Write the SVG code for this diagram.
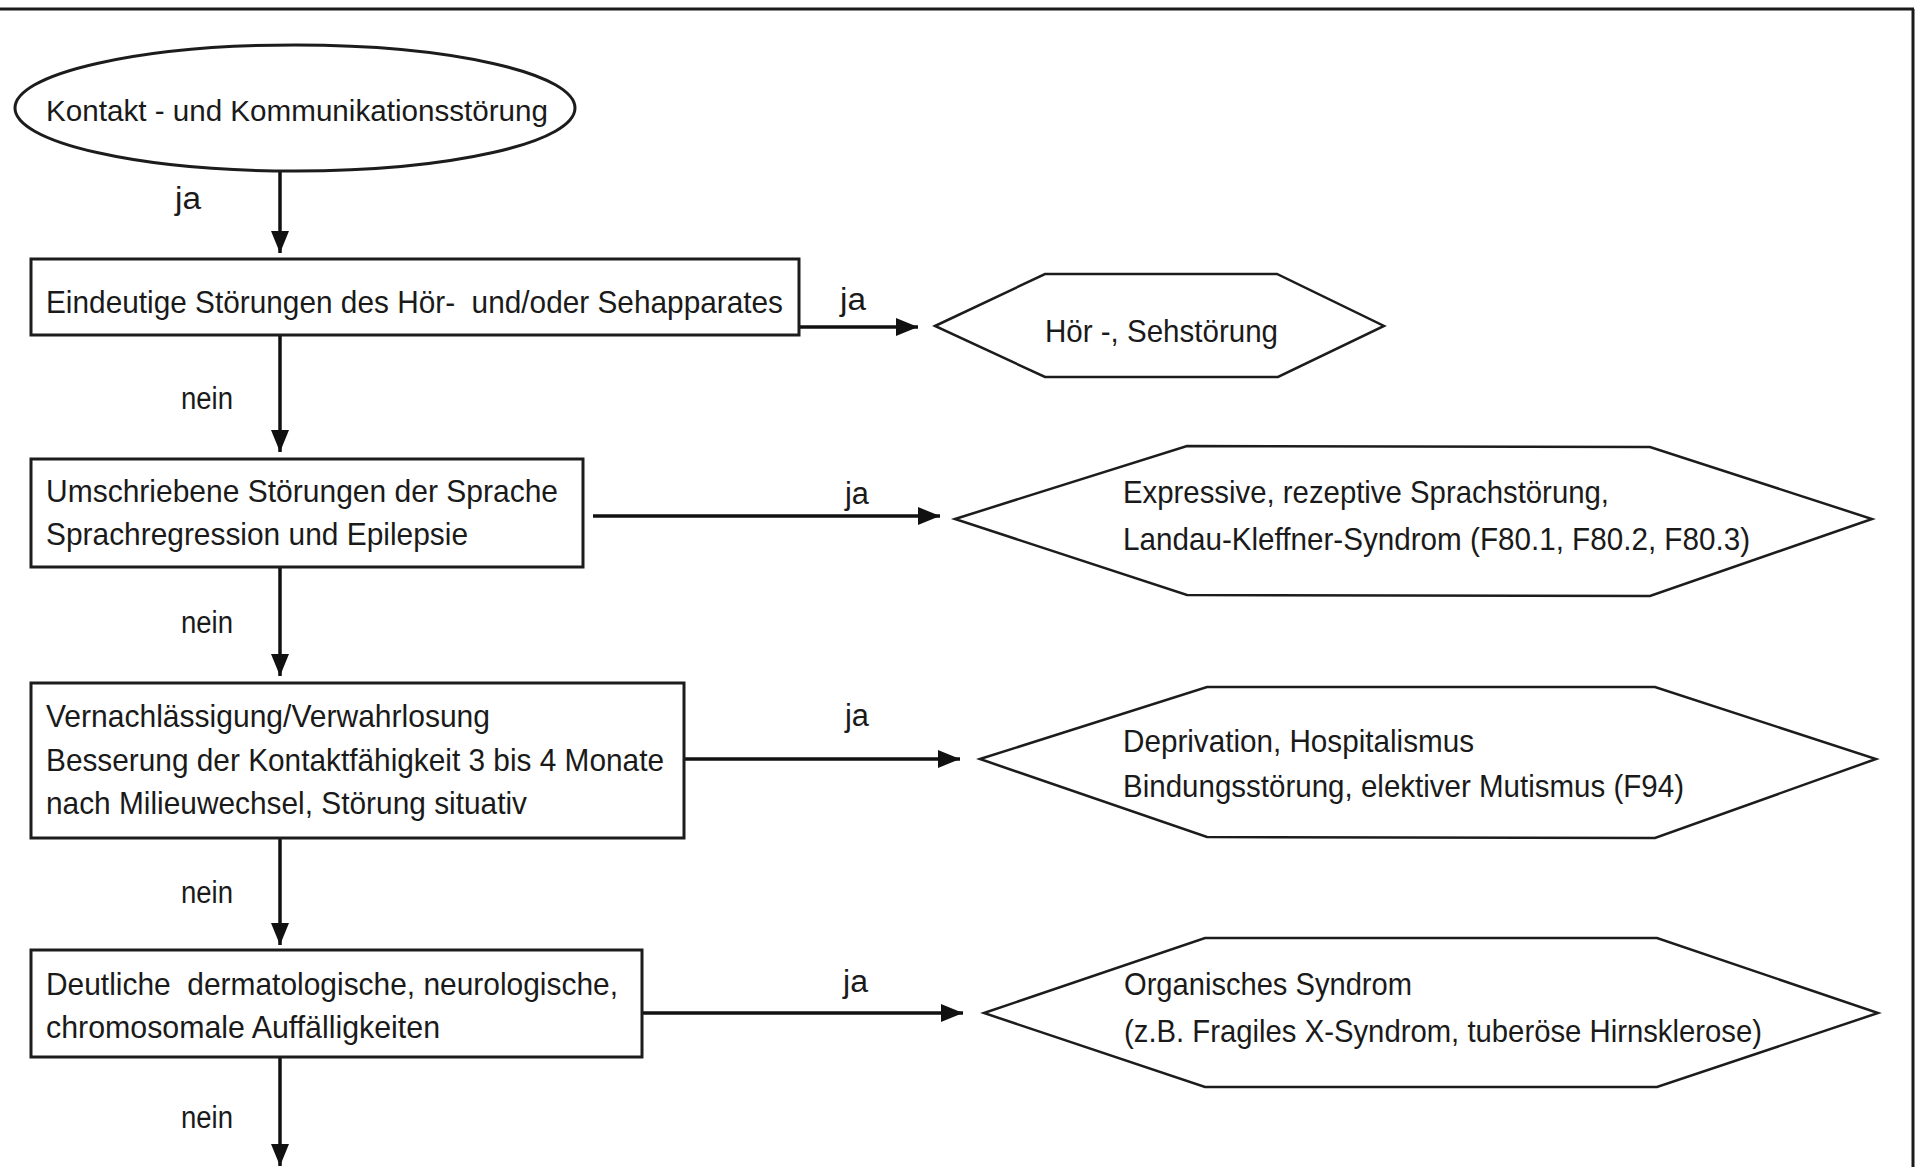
<svg xmlns="http://www.w3.org/2000/svg" width="1916" height="1167" viewBox="0 0 1916 1167">
<style>
  .bg { fill: #ffffff; }
  .frame { stroke: #1a1a1a; stroke-width: 3; fill: none; }
  .shape { fill: #ffffff; stroke: #1c1c1c; stroke-width: 3; }
  .hex { fill: #ffffff; stroke: #1c1c1c; stroke-width: 2.5; stroke-linejoin: miter; }
  .conn { stroke: #111111; stroke-width: 3.5; fill: none; }
  text { font-family: "Liberation Sans", Arial, Helvetica, sans-serif; fill: #1a1a1a; }
  .t { font-size: 32px; }
  .te { font-size: 29px; }
  .lbl { font-size: 31px; }
</style>
<defs>
  <marker id="arrow" viewBox="0 0 22 18" refX="22" refY="9" markerWidth="22" markerHeight="18" markerUnits="userSpaceOnUse" orient="auto">
    <path d="M0,0 L22,9 L0,18 Z" fill="#111111"/>
  </marker>
</defs>
<rect class="bg" x="0" y="0" width="1916" height="1167"/>
<g id="frame">
  <line class="frame" x1="0" y1="9" x2="1914" y2="9"/>
  <line class="frame" x1="1913" y1="9" x2="1913" y2="1167"/>
</g>
<g id="connectors">
  <line class="conn" x1="280" y1="171" x2="280" y2="253" marker-end="url(#arrow)"/>
  <line class="conn" x1="280" y1="336" x2="280" y2="452" marker-end="url(#arrow)"/>
  <line class="conn" x1="280" y1="567" x2="280" y2="676" marker-end="url(#arrow)"/>
  <line class="conn" x1="280" y1="838" x2="280" y2="945" marker-end="url(#arrow)"/>
  <line class="conn" x1="280" y1="1057" x2="280" y2="1166" marker-end="url(#arrow)"/>
  <line class="conn" x1="800" y1="327" x2="918" y2="327" marker-end="url(#arrow)"/>
  <line class="conn" x1="593" y1="516" x2="940" y2="516" marker-end="url(#arrow)"/>
  <line class="conn" x1="684" y1="759" x2="960" y2="759" marker-end="url(#arrow)"/>
  <line class="conn" x1="642" y1="1013" x2="963" y2="1013" marker-end="url(#arrow)"/>
  <text class="lbl" x="175" y="209" textLength="26" lengthAdjust="spacingAndGlyphs">ja</text>
  <text class="lbl" x="840" y="310" textLength="26" lengthAdjust="spacingAndGlyphs">ja</text>
  <text class="lbl" x="181" y="409" textLength="52" lengthAdjust="spacingAndGlyphs">nein</text>
  <text class="lbl" x="845" y="504" textLength="24" lengthAdjust="spacingAndGlyphs">ja</text>
  <text class="lbl" x="181" y="633" textLength="52" lengthAdjust="spacingAndGlyphs">nein</text>
  <text class="lbl" x="845" y="726" textLength="24" lengthAdjust="spacingAndGlyphs">ja</text>
  <text class="lbl" x="181" y="903" textLength="52" lengthAdjust="spacingAndGlyphs">nein</text>
  <text class="lbl" x="843" y="992" textLength="25" lengthAdjust="spacingAndGlyphs">ja</text>
  <text class="lbl" x="181" y="1128" textLength="52" lengthAdjust="spacingAndGlyphs">nein</text>
</g>
<g id="start">
  <ellipse class="shape" cx="295" cy="108" rx="280" ry="63"/>
  <text class="te" x="46" y="121" textLength="502" lengthAdjust="spacingAndGlyphs">Kontakt - und Kommunikationsstörung</text>
</g>
<g id="q1">
  <rect class="shape" x="31" y="259" width="768" height="76"/>
  <text class="t" x="46" y="313" textLength="737" lengthAdjust="spacingAndGlyphs" xml:space="preserve">Eindeutige Störungen des Hör-  und/oder Sehapparates</text>
</g>
<g id="r1">
  <polygon class="hex" points="935,326 1045,274 1277,274 1384,326 1278,377 1045,377"/>
  <text class="t" x="1045" y="342" textLength="233" lengthAdjust="spacingAndGlyphs">Hör -, Sehstörung</text>
</g>
<g id="q2">
  <rect class="shape" x="31" y="459" width="552" height="108"/>
  <text class="t" x="46" y="502" textLength="512" lengthAdjust="spacingAndGlyphs">Umschriebene Störungen der Sprache</text>
  <text class="t" x="46" y="545" textLength="422" lengthAdjust="spacingAndGlyphs">Sprachregression und Epilepsie</text>
</g>
<g id="r2">
  <polygon class="hex" points="955,519 1187,446 1650,447 1872,519 1650,596 1187,595"/>
  <text class="t" x="1123" y="503" textLength="486" lengthAdjust="spacingAndGlyphs">Expressive, rezeptive Sprachstörung,</text>
  <text class="t" x="1123" y="550" textLength="627" lengthAdjust="spacingAndGlyphs">Landau-Kleffner-Syndrom (F80.1, F80.2, F80.3)</text>
</g>
<g id="q3">
  <rect class="shape" x="31" y="683" width="653" height="155"/>
  <text class="t" x="46" y="727" textLength="444" lengthAdjust="spacingAndGlyphs">Vernachlässigung/Verwahrlosung</text>
  <text class="t" x="46" y="771" textLength="618" lengthAdjust="spacingAndGlyphs">Besserung der Kontaktfähigkeit 3 bis 4 Monate</text>
  <text class="t" x="46" y="814" textLength="481" lengthAdjust="spacingAndGlyphs">nach Milieuwechsel, Störung situativ</text>
</g>
<g id="r3">
  <polygon class="hex" points="980,759 1207,687 1655,687 1876,759 1655,838 1207,837"/>
  <text class="t" x="1123" y="752" textLength="351" lengthAdjust="spacingAndGlyphs">Deprivation, Hospitalismus</text>
  <text class="t" x="1123" y="797" textLength="561" lengthAdjust="spacingAndGlyphs">Bindungsstörung, elektiver Mutismus (F94)</text>
</g>
<g id="q4">
  <rect class="shape" x="31" y="950" width="611" height="107"/>
  <text class="t" x="46" y="995" textLength="572" lengthAdjust="spacingAndGlyphs" xml:space="preserve">Deutliche  dermatologische, neurologische,</text>
  <text class="t" x="46" y="1038" textLength="394" lengthAdjust="spacingAndGlyphs">chromosomale Auffälligkeiten</text>
</g>
<g id="r4">
  <polygon class="hex" points="984,1013 1205,938 1657,938 1878,1013 1657,1087 1205,1087"/>
  <text class="t" x="1124" y="995" textLength="288" lengthAdjust="spacingAndGlyphs">Organisches Syndrom</text>
  <text class="t" x="1124" y="1042" textLength="638" lengthAdjust="spacingAndGlyphs">(z.B. Fragiles X-Syndrom, tuberöse Hirnsklerose)</text>
</g>
</svg>
